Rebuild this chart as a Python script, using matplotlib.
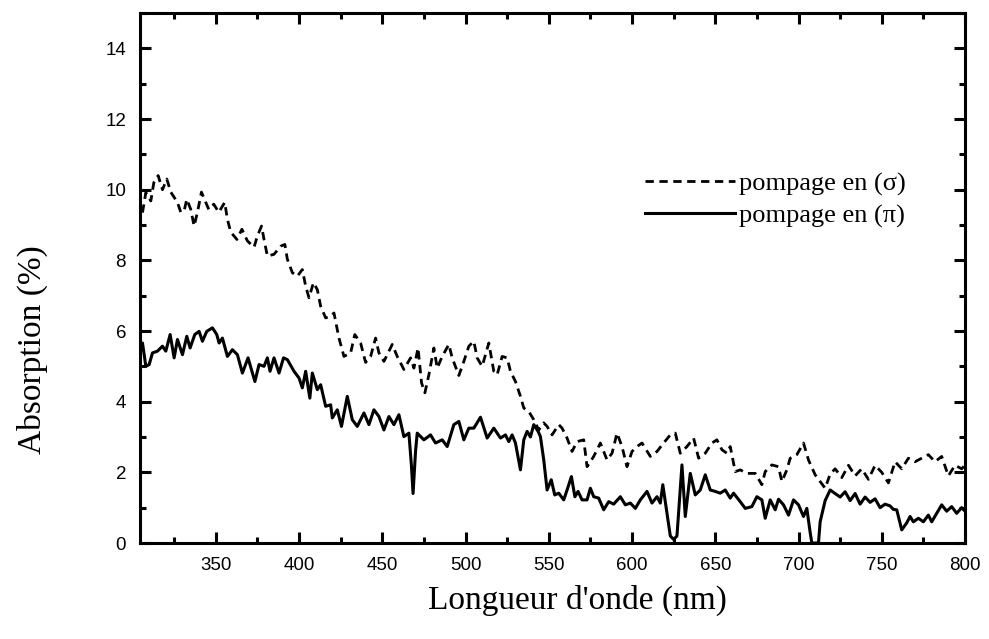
import numpy as np
import matplotlib
matplotlib.use("Agg")
import matplotlib.pyplot as plt
from matplotlib.ticker import MultipleLocator

# pompage en (sigma) - dashed curve
sigma_x = [306, 308, 311, 312.8, 315.4, 318, 320.6, 323, 327, 329, 331, 332.6, 335, 337, 339, 341.4,
           344, 345.8, 348.8, 351.8, 355.4, 357, 359, 362.7, 365.7, 369, 373, 375, 377.5, 379, 381,
           385, 389, 391.5, 393, 396, 399, 402, 404, 406, 408.7, 411, 413, 416, 419, 421, 424, 427,
           431, 433.5, 437, 440, 443, 446, 448, 451, 456, 459, 463, 467, 469, 471.5, 473.6, 475.6,
           478, 481, 483, 486, 490, 492, 496, 499, 502, 505, 507, 510, 514, 517, 519, 522, 525, 527,
           530, 533, 535, 538, 541, 544, 547, 549, 552, 556, 558, 561, 564, 567, 571, 573, 577, 581,
           585, 588, 591, 594, 597, 600, 603, 606, 611, 615, 619, 623, 626, 629, 633, 637, 640, 644,
           648, 651, 654, 657, 659, 662, 665, 669, 674, 678, 680, 684, 688, 690, 693, 695, 699, 703,
           706, 710, 713, 716, 719, 722, 726, 730, 734, 738, 742, 746, 750, 754, 758, 762, 766, 770,
           774, 778, 782, 786, 790, 794, 798, 800]
sigma_y = [9.35, 9.92, 9.68, 10.2, 10.4, 10.0, 10.3, 9.93, 9.64, 9.36, 9.4, 9.73, 9.44, 8.97, 9.36, 9.93,
           9.64, 9.44, 9.59, 9.36, 9.64, 9.16, 8.8, 8.59, 8.88, 8.55, 8.37, 8.69, 8.97, 8.59, 8.12,
           8.17, 8.40, 8.45, 8.03, 7.65, 7.55, 7.74, 7.27, 6.94, 7.37, 7.17, 6.70, 6.37, 6.42, 6.51, 5.80, 5.28,
           5.38, 5.9, 5.66, 5.11, 5.28, 5.80, 5.38, 5.14, 5.62, 5.28, 4.91, 5.24, 4.95, 5.52, 4.53, 4.25,
           4.76, 5.52, 4.95, 5.28, 5.62, 5.24, 4.74, 5.14, 5.57, 5.71, 5.24, 5.0, 5.66, 4.86, 4.76, 5.28, 5.24, 4.86,
           4.57, 4.15, 3.82, 3.72, 3.49, 3.20, 3.40, 3.30, 3.06, 3.35, 3.25, 2.97, 2.59, 2.87, 2.92, 2.16, 2.45, 2.83,
           2.35, 2.54, 3.11, 2.73, 2.16, 2.59, 2.73, 2.83, 2.45, 2.59, 2.83, 3.06, 3.11, 2.54, 2.73, 2.97, 2.40, 2.54,
           2.83, 2.92, 2.64, 2.54, 2.73, 2.02, 2.07, 1.97, 1.97, 1.65, 2.02, 2.21, 2.16, 1.74, 2.07, 2.40, 2.50, 2.83,
           2.35, 1.93, 1.74, 1.55, 1.95, 2.1, 1.85, 2.2, 1.9, 2.1, 1.8, 2.2, 2.0, 1.7, 2.3, 2.1, 2.4, 2.3,
           2.4, 2.5, 2.3, 2.45, 1.9, 2.2, 2.1, 2.2]

# pompage en (pi) - solid curve
pi_x = [305.5, 306, 308, 310, 312, 315, 318, 320, 322.6, 325, 327, 330, 332.6, 334.6, 337.4, 340, 342,
        344.6, 348, 350.6, 352, 354, 357, 360, 363, 366, 369.4, 373.5, 376, 379, 381, 382.6, 385, 388,
        390.7, 393, 397, 400, 402, 404, 406.5, 408, 411, 413, 416, 419, 420, 423, 425.5, 429, 432, 435,
        439, 442, 445, 448, 451, 454, 457, 460, 463, 466, 467.5, 468.5, 470, 471, 475, 479, 482, 486,
        489, 493, 496, 499, 502, 505, 509, 513, 517, 521, 524, 526, 528, 530, 533, 535, 537, 539, 541,
        543.6, 545, 547, 549, 551.5, 553.6, 556, 559, 561, 563.6, 565.7, 567.6, 570, 573, 575, 577, 580,
        583, 586, 589, 593, 596, 599, 602, 605, 609, 612, 615, 617, 618.5, 621, 623, 625, 627, 630, 632,
        635, 638, 641, 644, 647, 650, 653, 656, 659, 661, 665, 668, 672, 675, 678, 680, 683, 686, 688,
        691, 694, 697, 700, 703, 705, 707, 708, 712, 713, 716, 719, 722, 725, 728, 731, 734, 737, 740,
        743, 746, 749, 752, 755, 757, 759, 762, 765, 767, 769, 772, 775, 778, 780, 783, 786, 789, 792,
        795, 798, 800]
pi_y = [5.5, 5.66, 5.0, 5.05, 5.38, 5.43, 5.57, 5.43, 5.9, 5.24, 5.76, 5.33, 5.85, 5.52, 5.9, 5.99, 5.71,
        5.99, 6.09, 5.9, 5.66, 5.8, 5.28, 5.47, 5.33, 4.81, 5.24, 4.57, 5.05, 5.0, 5.24, 4.86, 5.24, 4.81,
        5.24, 5.19, 4.86, 4.67, 4.39, 4.86, 4.1, 4.81, 4.34, 4.48, 3.87, 3.91, 3.54, 3.77, 3.30, 4.15, 3.49, 3.30,
        3.68, 3.35, 3.77, 3.58, 3.20, 3.58, 3.35, 3.63, 3.01, 3.11, 2.2, 1.4, 2.6, 3.11, 2.92, 3.06, 2.83, 2.92,
        2.73, 3.35, 3.44, 2.92, 3.25, 3.25, 3.56, 2.97, 3.25, 2.97, 3.06, 2.87, 3.06, 2.83, 2.07, 2.92, 3.16, 3.0, 3.35,
        3.16, 3.01, 2.35, 1.50, 1.79, 1.36, 1.41, 1.22, 1.50, 1.88, 1.31, 1.46, 1.22, 1.22, 1.55, 1.31, 1.27,
        0.94, 1.17, 1.10, 1.31, 1.08, 1.13, 0.98, 1.22, 1.46, 1.13, 1.31, 1.13, 1.65, 0.84, 0.2, 0.1, 0.2, 2.21, 0.75,
        1.97, 1.36, 1.50, 1.93, 1.50, 1.46, 1.41, 1.50, 1.27, 1.41, 1.17, 0.98, 1.03, 1.31, 1.22, 0.70, 1.22, 0.94, 1.24,
        1.08, 0.79, 1.22, 1.08, 0.75, 0.98, 0.3, 0.0, 0.0, 0.6, 1.2, 1.5, 1.4, 1.3, 1.45, 1.2, 1.4, 1.1, 1.3,
        1.15, 1.25, 1.0, 1.1, 1.05, 0.95, 0.94, 0.37, 0.57, 0.75, 0.6, 0.70, 0.6, 0.79, 0.6, 0.84, 1.08, 0.9, 1.03,
        0.84, 1.0, 0.9]

serif = "Liberation Serif"
sans = "Liberation Sans"

fig = plt.figure(figsize=(9.89, 6.39), dpi=100)
ax = fig.add_axes([140/989, 96/639, 825/989, 530/639])

ax.plot(sigma_x, sigma_y, color="black", lw=2.0, linestyle=(0, (3, 2)), label="pompage en (σ)")
ax.plot(pi_x, pi_y, color="black", lw=2.2, label="pompage en (π)")

ax.set_xlim(304.5, 800)
ax.set_ylim(0, 15)
ax.xaxis.set_major_locator(MultipleLocator(50))
ax.xaxis.set_minor_locator(MultipleLocator(25))
ax.yaxis.set_major_locator(MultipleLocator(2))
ax.yaxis.set_minor_locator(MultipleLocator(1))
ax.tick_params(which="both", direction="in", top=True, right=True, width=2.2, labelsize=13.5, pad=10)
ax.tick_params(which="major", length=8)
ax.tick_params(which="minor", length=4.5)
for lab in ax.get_xticklabels() + ax.get_yticklabels():
    lab.set_fontfamily(sans)
for s in ax.spines.values():
    s.set_linewidth(2.2)

ax.set_xlabel("Longueur d'onde (nm)", fontsize=24, family=serif, va="center")
ax.set_ylabel("Absorption (%)", fontsize=24, family=serif, va="center")
ax.xaxis.set_label_coords(0.53, -0.108)
ax.yaxis.set_label_coords(-0.131, 0.364)

leg = ax.legend(loc="center left", bbox_to_anchor=(0.596, 0.647), frameon=False,
                prop={"family": serif, "size": 19}, handlelength=3.4, handletextpad=0.15,
                labelspacing=0.3, borderpad=0)

fig.savefig("out.png", dpi=100)
